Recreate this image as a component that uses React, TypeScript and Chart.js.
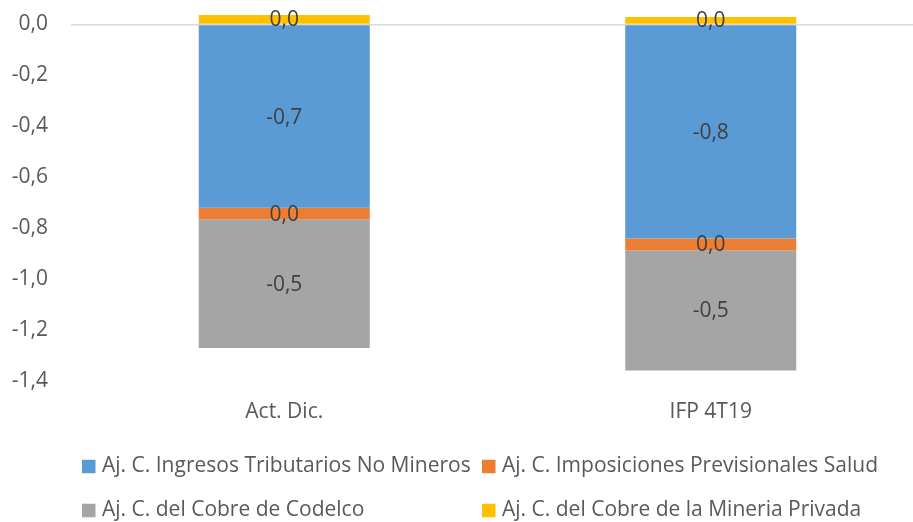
import React, { useEffect, useRef } from "react";
import { Chart, registerables } from "chart.js";

Chart.register(...registerables);

const categories = ["Act. Dic.", "IFP 4T19"];
const seriesNames = [
  "Aj. C. Ingresos Tributarios No Mineros",
  "Aj. C. Imposiciones Previsionales Salud",
  "Aj. C. del Cobre de Codelco",
  "Aj. C. del Cobre de la Mineria Privada",
];
const ingresosNoMineros = [-0.72, -0.84];
const imposicionesSalud = [-0.045, -0.047];
const cobreCodelco = [-0.505, -0.472];
const cobreMineriaPrivada = [0.037, 0.029];
const seriesColors = ["#5B9BD5", "#ED7D31", "#A5A5A5", "#FFC000"];
const yMin = -1.4;
const yMax = 0;
const yStep = 0.2;

const FONT = "'Open Sans', 'Noto Sans', sans-serif";
const FONT_SIZE = 21;

const fmt = (v: number) => {
  const r = Math.round(v * 10) / 10;
  if (r === 0) return "0,0";
  return r.toFixed(1).replace(".", ",");
};

const dataLabelPlugin = {
  id: "segLabels",
  afterDatasetsDraw(chart: any) {
    const ctx = chart.ctx;
    ctx.save();
    ctx.font = `${FONT_SIZE}px ${FONT}`;
    ctx.fillStyle = "#404040";
    ctx.textAlign = "center";
    ctx.textBaseline = "middle";
    chart.data.datasets.forEach((ds: any, i: number) => {
      const meta = chart.getDatasetMeta(i);
      meta.data.forEach((el: any, j: number) => {
        const { x, y, base } = el.getProps(["x", "y", "base"], true);
        ctx.fillText(fmt(ds.data[j]), x, (y + base) / 2 + 1);
      });
    });
    ctx.restore();
  },
};

const legendPlugin = {
  id: "gridLegend",
  afterDraw(chart: any) {
    const ctx = chart.ctx;
    ctx.save();
    ctx.font = `${FONT_SIZE}px ${FONT}`;
    ctx.textAlign = "left";
    ctx.textBaseline = "middle";
    const cols = [82, 482];
    const rows = [466.5, 510.5];
    const box = 13.5;
    chart.data.datasets.forEach((ds: any, i: number) => {
      const cx = cols[i % 2];
      const cy = rows[Math.floor(i / 2)];
      ctx.fillStyle = ds.backgroundColor;
      ctx.fillRect(cx, cy - box / 2, box, box);
      ctx.fillStyle = "#595959";
      ctx.fillText(ds.label, cx + 20, cy);
    });
    ctx.restore();
  },
};

export default function App() {
  const ref = useRef<HTMLCanvasElement | null>(null);
  useEffect(() => {
    let chart: Chart | null = null;
    let cancelled = false;
    const make = () => {
      if (cancelled || !ref.current) return;
      const seriesData = [ingresosNoMineros, imposicionesSalud, cobreCodelco, cobreMineriaPrivada];
      chart = new Chart(ref.current, {
        type: "bar",
        data: {
          labels: categories,
          datasets: seriesData.map((d, i) => ({
            label: seriesNames[i],
            data: d,
            backgroundColor: seriesColors[i],
            borderWidth: 0,
            clip: false as any,
          })),
        },
        options: {
          responsive: false,
          animation: false,
          devicePixelRatio: 1,
          layout: { padding: { left: 0, top: 24.5, right: 16, bottom: 81 } },
          datasets: { bar: { categoryPercentage: 1, barPercentage: 0.401 } },
          plugins: { legend: { display: false }, tooltip: { enabled: false } },
          scales: {
            x: {
              stacked: true,
              grid: { display: false, drawTicks: false },
              border: { display: false },
              ticks: { color: "#595959", font: { family: FONT, size: FONT_SIZE }, padding: 18 },
              afterFit: (s: any) => {
                s.height = 60;
                s.paddingLeft = 0;
                s.paddingRight = 0;
              },
            },
            y: {
              stacked: true,
              min: yMin,
              max: yMax,
              border: { display: false },
              grid: {
                drawTicks: false,
                lineWidth: 1.5,
                color: (c: any) => (c.tick && Math.abs(c.tick.value) < 1e-9 ? "#D9D9D9" : "rgba(0,0,0,0)"),
              },
              ticks: {
                stepSize: yStep,
                color: "#595959",
                font: { family: FONT, size: FONT_SIZE },
                padding: 23,
                callback: (v: any) => Number(v).toFixed(1).replace(".", ","),
              },
              afterFit: (s: any) => {
                s.width = 71;
                s.paddingTop = 0;
                s.paddingBottom = 0;
              },
            },
          },
        },
        plugins: [dataLabelPlugin, legendPlugin],
      });
    };
    const fonts: any = (document as any).fonts;
    if (fonts && fonts.load) {
      fonts.load(`${FONT_SIZE}px 'Open Sans'`).then(make, make);
    } else make();
    return () => {
      cancelled = true;
      if (chart) chart.destroy();
    };
  }, []);
  return (
    <div style={{ position: "fixed", left: 0, top: 0, width: 913, height: 522, overflow: "hidden", background: "#fff" }}>
      <canvas ref={ref} width={940} height={522} style={{ width: 940, height: 522, display: "block" }} />
    </div>
  );
}
